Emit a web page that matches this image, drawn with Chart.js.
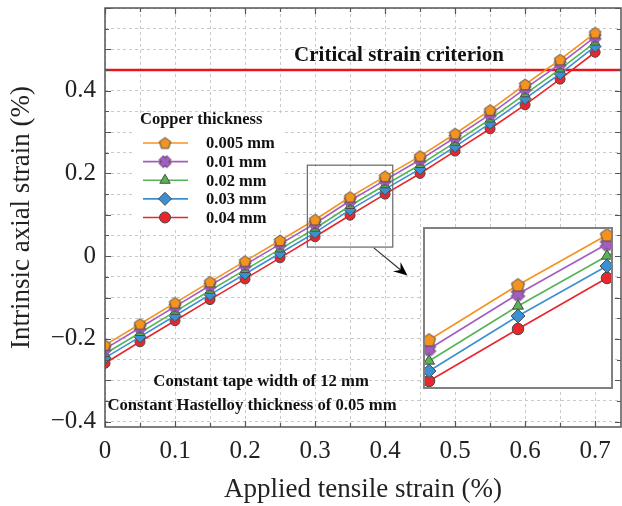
<!DOCTYPE html>
<html>
<head>
<meta charset="utf-8">
<script src="https://cdn.jsdelivr.net/npm/chart.js@4.4.1/dist/chart.umd.min.js"></script>
<style>
  html, body { margin: 0; padding: 0; background: #fff; }
  #wrap { position: relative; width: 622px; height: 506px; }
  #main { position: absolute; left: 0; top: 0; }
  #inset { position: absolute; left: 423px; top: 227px; }
</style>
</head>
<body>
<div id="wrap">
  <canvas id="main" width="622" height="506"></canvas>
  <canvas id="inset" width="190" height="162"></canvas>
</div>
<script>
// applied tensile strain (%)
const strain = [0, 0.05, 0.1, 0.15, 0.2, 0.25, 0.3, 0.35, 0.4, 0.45, 0.5, 0.55, 0.6, 0.65, 0.7];

// intrinsic axial strain (%) per copper thickness
const cu005 = [-0.215, -0.164, -0.113, -0.062, -0.012, 0.038, 0.088, 0.143, 0.193, 0.242, 0.296, 0.353, 0.415, 0.475, 0.540];
const cu01  = [-0.224, -0.173, -0.122, -0.071, -0.021, 0.029, 0.079, 0.134, 0.184, 0.233, 0.287, 0.343, 0.405, 0.465, 0.530];
const cu02  = [-0.236, -0.185, -0.134, -0.083, -0.033, 0.017, 0.067, 0.122, 0.172, 0.221, 0.275, 0.331, 0.392, 0.452, 0.517];
const cu03  = [-0.246, -0.195, -0.144, -0.093, -0.043, 0.007, 0.057, 0.112, 0.162, 0.211, 0.265, 0.321, 0.381, 0.441, 0.507];
const cu04  = [-0.259, -0.207, -0.156, -0.105, -0.055, -0.004, 0.047, 0.099, 0.150, 0.200, 0.254, 0.308, 0.366, 0.428, 0.493];

const seriesLabels = ['0.005 mm', '0.01 mm', '0.02 mm', '0.03 mm', '0.04 mm'];
const criticalStrain = 0.45;

const SERIF = "'Liberation Serif', 'Times New Roman', serif";
const EDGE = '#4a4a4a';
const colors = ['#f5931f', '#a35cc0', '#55b455', '#3b8fd3', '#e8262b'];

// custom markers (pentagon, filled X)
function pentagon(color, r) {
  const c = document.createElement('canvas');
  const s = Math.ceil(r * 2 + 3);
  c.width = s; c.height = s;
  const g = c.getContext('2d');
  g.beginPath();
  for (let i = 0; i < 5; i++) {
    const a = -Math.PI / 2 + i * 2 * Math.PI / 5;
    const px = s / 2 + r * Math.cos(a), py = s / 2 + 0.5 + r * Math.sin(a);
    i ? g.lineTo(px, py) : g.moveTo(px, py);
  }
  g.closePath();
  g.fillStyle = color; g.fill();
  g.strokeStyle = EDGE; g.lineWidth = 1; g.stroke();
  return c;
}
function xMark(color, r) {
  const c = document.createElement('canvas');
  const s = Math.ceil(r * 2 + 4);
  c.width = s; c.height = s;
  const g = c.getContext('2d');
  const m = s / 2, d = r * 0.75;
  const path = () => {
    g.beginPath();
    g.moveTo(m - d, m - d); g.lineTo(m + d, m + d);
    g.moveTo(m + d, m - d); g.lineTo(m - d, m + d);
  };
  path(); g.strokeStyle = EDGE; g.lineWidth = r * 0.85 + 2; g.stroke();
  path(); g.strokeStyle = color; g.lineWidth = r * 0.85; g.stroke();
  return c;
}

function makeSets(big) {
  const k = big ? 1.15 : 1;
  const styles = [
    pentagon(colors[0], 6 * k),
    xMark(colors[1], 5.5 * k),
    'triangle', 'rectRot', 'circle'
  ];
  const radii = [6, 6, 5.5 * k, 6 * k, 5 * k];
  return [cu005, cu01, cu02, cu03, cu04].map((vals, i) => ({
    label: seriesLabels[i],
    data: strain.map((x, j) => ({ x, y: vals[j] })),
    borderColor: colors[i],
    backgroundColor: colors[i],
    pointBackgroundColor: colors[i],
    pointBorderColor: EDGE,
    pointBorderWidth: 1,
    pointStyle: styles[i],
    pointRadius: radii[i],
    borderWidth: 1.6,
    tension: 0
  }));
}

const near = (v, step) => Math.abs(v / step - Math.round(v / step)) < 1e-6;

const framePlugin = {
  id: 'frame',
  afterDraw(chart) {
    const { ctx, chartArea: a, scales: { x, y } } = chart;
    ctx.save();
    // inward ticks
    ctx.strokeStyle = '#555';
    ctx.lineWidth = 1.2;
    x.ticks.forEach(t => {
      if (!near(t.value, 0.05)) return;
      const L = near(t.value, 0.1) ? 6 : 4;
      const px = Math.round(x.getPixelForValue(t.value)) + 0.5;
      ctx.beginPath();
      ctx.moveTo(px, a.bottom); ctx.lineTo(px, a.bottom - L);
      ctx.moveTo(px, a.top); ctx.lineTo(px, a.top + L);
      ctx.stroke();
    });
    y.ticks.forEach(t => {
      if (!near(t.value, 0.05)) return;
      const L = near(t.value, 0.1) ? 6 : 4;
      const py = Math.round(y.getPixelForValue(t.value)) + 0.5;
      ctx.beginPath();
      ctx.moveTo(a.left, py); ctx.lineTo(a.left + L, py);
      ctx.moveTo(a.right, py); ctx.lineTo(a.right - L, py);
      ctx.stroke();
    });
    ctx.lineWidth = 1.5;
    ctx.strokeRect(a.left, a.top, a.right - a.left, a.bottom - a.top);

    // zoom box and arrow
    const bx0 = x.getPixelForValue(0.289), bx1 = x.getPixelForValue(0.411);
    const by0 = y.getPixelForValue(0.22), by1 = y.getPixelForValue(0.022);
    ctx.strokeStyle = '#666';
    ctx.lineWidth = 1.2;
    ctx.strokeRect(bx0, by0, bx1 - bx0, by1 - by0);
    const sx = x.getPixelForValue(0.384), sy = y.getPixelForValue(0.02);
    const ex = x.getPixelForValue(0.432), ey = y.getPixelForValue(-0.047);
    const ang = Math.atan2(ey - sy, ex - sx);
    ctx.strokeStyle = '#333';
    ctx.beginPath(); ctx.moveTo(sx, sy); ctx.lineTo(ex - 8 * Math.cos(ang), ey - 8 * Math.sin(ang)); ctx.stroke();
    ctx.fillStyle = '#000';
    ctx.beginPath();
    ctx.moveTo(ex, ey);
    ctx.lineTo(ex - 14 * Math.cos(ang) + 6 * Math.sin(ang), ey - 14 * Math.sin(ang) - 6 * Math.cos(ang));
    ctx.lineTo(ex - 9 * Math.cos(ang), ey - 9 * Math.sin(ang));
    ctx.lineTo(ex - 14 * Math.cos(ang) - 6 * Math.sin(ang), ey - 14 * Math.sin(ang) + 6 * Math.cos(ang));
    ctx.closePath(); ctx.fill();

    // texts
    ctx.fillStyle = '#111';
    ctx.textBaseline = 'middle';
    ctx.textAlign = 'center';
    ctx.font = `bold 21px ${SERIF}`;
    ctx.fillText('Critical strain criterion', x.getPixelForValue(0.42), y.getPixelForValue(0.486));
    ctx.font = `bold 16.7px ${SERIF}`;
    ctx.fillText('Constant tape width of 12 mm', x.getPixelForValue(0.223), y.getPixelForValue(-0.304));
    ctx.fillText('Constant Hastelloy thickness of 0.05 mm', x.getPixelForValue(0.21), y.getPixelForValue(-0.362));

    // legend
    const lx = x.getPixelForValue(0.04), ly = y.getPixelForValue(0.346);
    ctx.fillStyle = '#fff';
    ctx.fillRect(lx, ly, 150, 114);
    ctx.fillStyle = '#111';
    ctx.textAlign = 'left';
    ctx.font = `bold 16.5px ${SERIF}`;
    ctx.fillText('Copper thickness', lx + 7, ly + 7);
    chart.data.datasets.slice(0, 5).forEach((ds, i) => {
      const ry = ly + 30 + i * 18.6;
      ctx.strokeStyle = ds.borderColor;
      ctx.lineWidth = 1.6;
      ctx.beginPath(); ctx.moveTo(lx + 10, ry); ctx.lineTo(lx + 55, ry); ctx.stroke();
      ctx.strokeStyle = EDGE;
      ctx.fillStyle = ds.pointBackgroundColor;
      ctx.lineWidth = 1;
      Chart.helpers.drawPoint(ctx, { pointStyle: ds.pointStyle, radius: ds.pointRadius + 0.5, rotation: 0, borderWidth: 1 }, lx + 32, ry);
      ctx.fillStyle = '#111';
      ctx.font = `bold 16.5px ${SERIF}`;
      ctx.fillText(ds.label, lx + 73, ry + 1);
    });
    ctx.restore();
  }
};

const mainSets = makeSets(false);
mainSets.push({
  label: 'critical',
  data: [{ x: 0, y: criticalStrain }, { x: 0.737, y: criticalStrain }],
  borderColor: '#e8141c',
  borderWidth: 2.5,
  pointRadius: 0
});

new Chart(document.getElementById('main'), {
  type: 'line',
  data: { datasets: mainSets },
  options: {
    responsive: false,
    animation: false,
    layout: { autoPadding: false, padding: { top: 8, right: 1, left: 0, bottom: 0 } },
    plugins: { legend: { display: false }, tooltip: { enabled: false } },
    scales: {
      x: {
        type: 'linear',
        min: 0, max: 0.737,
        afterFit: s => { s.height = 79; s.paddingLeft = 0; s.paddingRight = 0; },
        grid: { color: '#c9c9c9', lineWidth: 1, drawTicks: false },
        border: { display: false, dash: [3, 3] },
        ticks: {
          stepSize: 0.05, includeBounds: false, padding: 9, color: '#222', maxRotation: 0, autoSkip: false,
          font: { family: SERIF, size: 25 },
          callback: v => {
            const r = Math.round(v * 100);
            return (near(v, 0.1) && r <= 70) ? String(r / 100) : '';
          }
        },
        title: { display: true, text: 'Applied tensile strain (%)', color: '#222', font: { family: SERIF, size: 27 }, padding: { top: 0, bottom: 0 } }
      },
      y: {
        min: -0.413, max: 0.6,
        afterFit: s => { s.width = 105; s.paddingTop = 0; s.paddingBottom = 0; },
        grid: { color: '#c9c9c9', lineWidth: 1, drawTicks: false },
        border: { display: false, dash: [3, 3] },
        ticks: {
          stepSize: 0.05, includeBounds: false, padding: 9, color: '#222', autoSkip: false,
          font: { family: SERIF, size: 25 },
          callback: v => {
            const r = Math.round(v * 100);
            if (!near(v, 0.2) || r > 40) return '';
            return r === 0 ? '0' : (r < 0 ? '\u2212' + String(-r / 100) : String(r / 100));
          }
        },
        title: { display: true, text: 'Intrinsic axial strain (%)', color: '#222', font: { family: SERIF, size: 27 }, padding: { top: 6, bottom: 0 } }
      }
    }
  },
  plugins: [framePlugin]
});

// inset: zoom of 0.3 - 0.4
const insetPlugin = {
  id: 'insetFrame',
  beforeDraw(chart) {
    const { ctx, width, height } = chart;
    ctx.save(); ctx.fillStyle = '#fff'; ctx.fillRect(0, 0, width, height); ctx.restore();
  },
  afterDraw(chart) {
    const { ctx, width, height } = chart;
    ctx.save(); ctx.strokeStyle = '#808080'; ctx.lineWidth = 2;
    ctx.strokeRect(1, 1, width - 2, height - 2); ctx.restore();
  }
};

new Chart(document.getElementById('inset'), {
  type: 'line',
  data: { datasets: makeSets(true) },
  options: {
    responsive: false,
    animation: false,
    layout: { autoPadding: false, padding: 0 },
    plugins: { legend: { display: false }, tooltip: { enabled: false } },
    scales: {
      x: { type: 'linear', min: 0.2966, max: 0.4034, display: false },
      y: { min: 0.039, max: 0.201, display: false }
    }
  },
  plugins: [insetPlugin]
});
</script>
</body>
</html>
